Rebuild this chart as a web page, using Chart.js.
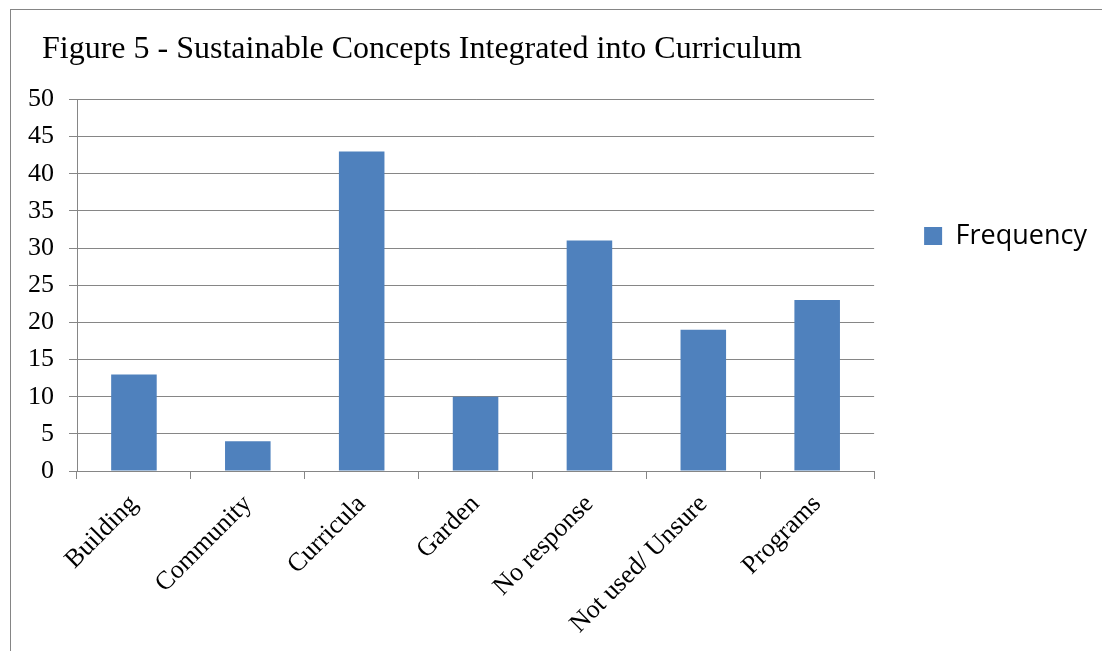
<!DOCTYPE html>
<html>
<head>
<meta charset="utf-8">
<script src="https://cdn.jsdelivr.net/npm/chart.js@4"></script>
<style>
  html, body { margin: 0; padding: 0; background: #ffffff; }
  body { width: 1102px; height: 651px; position: relative; overflow: hidden; }
  #frame { position: absolute; left: 10px; top: 9px; width: 1200px; height: 800px; border: 1px solid #858585; box-sizing: border-box; }
  #wrap { position: absolute; left: 0; top: 0; width: 1102px; height: 651px; }
</style>
</head>
<body>
<div id="frame"></div>
<div id="wrap"><canvas id="c" width="1102" height="651"></canvas></div>
<script>
const categories = ["Building", "Community", "Curricula", "Garden", "No response", "Not used/ Unsure", "Programs"];
const frequency = [13, 4, 43, 10, 31, 19, 23];
const seriesName = "Frequency";
const chartTitle = "Figure 5 - Sustainable Concepts Integrated into Curriculum";
const yMin = 0, yMax = 50, yStep = 5;

const serif = "'Liberation Serif', 'Times New Roman', serif";
const gridColor = "#868686";

const titleShift = {
  id: 'titleShift',
  afterLayout(chart) {
    if (chart.titleBlock) { chart.titleBlock.left = 42; }
  }
};

new Chart(document.getElementById('c'), {
  type: 'bar',
  data: {
    labels: categories,
    datasets: [{
      label: seriesName,
      data: frequency,
      backgroundColor: '#4F81BD',
      borderWidth: 0,
      categoryPercentage: 1.0,
      barPercentage: 0.4
    }]
  },
  plugins: [titleShift],
  options: {
    responsive: false,
    animation: false,
    devicePixelRatio: 1,
    layout: { padding: { left: 20, top: 9, right: 5, bottom: 0 } },
    plugins: {
      title: {
        display: true,
        text: chartTitle,
        align: 'start',
        color: '#000000',
        font: { family: serif, size: 32, weight: 'normal', lineHeight: 1.2 },
        padding: { top: 21, bottom: 31 }
      },
      legend: {
        display: true,
        position: 'right',
        align: 'start',
        fullSize: false,
        title: { display: true, text: ' ', font: { size: 10 }, padding: { top: 61, bottom: 0 } },
        labels: {
          boxWidth: 18,
          boxHeight: 18,
          padding: 50,
          color: '#000000',
          font: { family: "'Open Sans', sans-serif", size: 27 }
        }
      },
      tooltip: { enabled: false }
    },
    scales: {
      x: {
        grid: { display: true, drawOnChartArea: false, drawTicks: true, tickLength: 8, color: gridColor, offset: true },
        border: { display: true, color: gridColor, width: 1 },
        ticks: {
          color: '#000000',
          font: { family: serif, size: 26 },
          minRotation: 45,
          maxRotation: 45,
          autoSkip: false,
          padding: 10
        },
        afterFit: (s) => { s.height = 180; }
      },
      y: {
        min: yMin,
        max: yMax,
        grid: { display: true, drawOnChartArea: true, drawTicks: true, tickLength: 8, color: gridColor, lineWidth: 1 },
        border: { display: true, color: gridColor, width: 1 },
        ticks: {
          stepSize: yStep,
          color: '#000000',
          font: { family: serif, size: 26 },
          padding: 15
        },
        afterFit: (s) => { s.width = 57; }
      }
    }
  }
});
</script>
</body>
</html>
